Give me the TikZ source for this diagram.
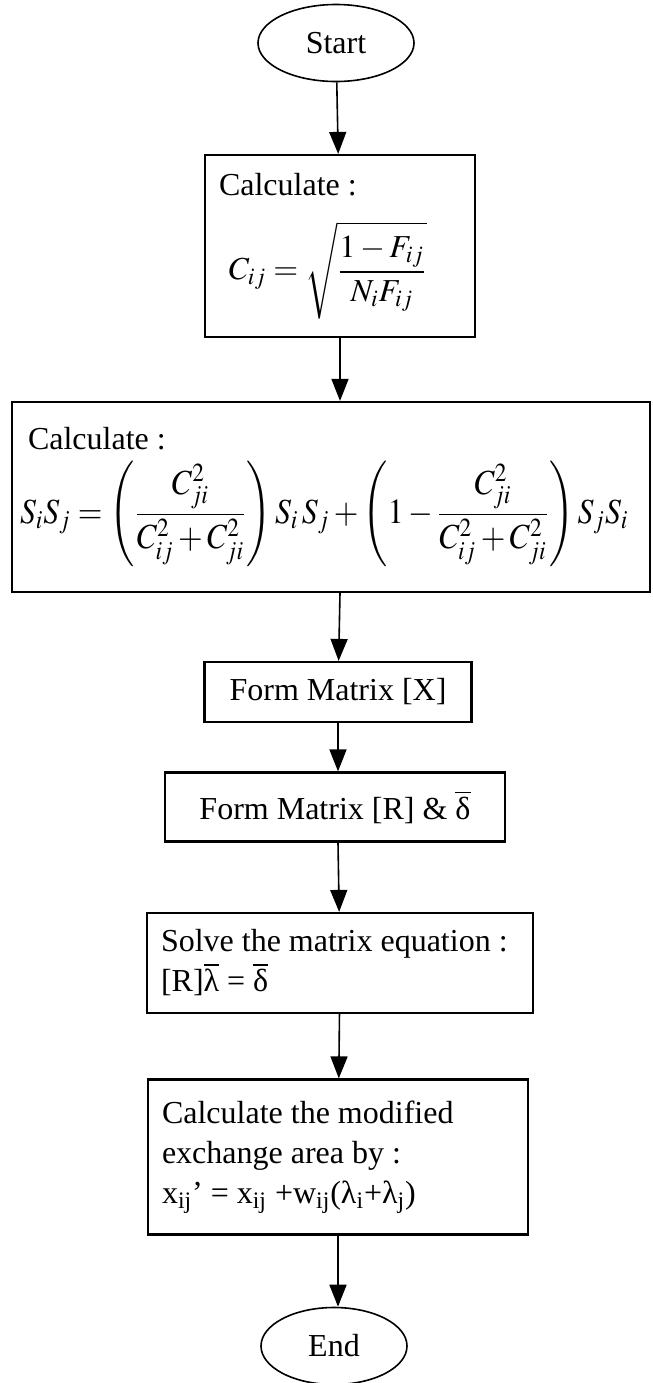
\documentclass[tikz,border=0pt]{standalone}
\usepackage{amsmath}
\usepackage{mathptmx}
\usepackage{fontspec}
\setmainfont{Liberation Serif}
\usepackage{graphicx}
\usetikzlibrary{arrows.meta,shapes.geometric}

\newcommand{\obar}[1]{\ensuremath{\overline{\mbox{#1}}}}

\begin{document}
\begin{tikzpicture}[x=0.5pt, y=-0.5pt, font=\fontsize{16}{20}\selectfont,
    >={Triangle[length=11pt,width=8.5pt]},
    flow/.style={->, line width=0.8pt},
    term/.style={ellipse, draw, line width=0.8pt, minimum width=78pt, minimum height=38.5pt},
    procbox/.style={rectangle, draw, line width=1.1pt, inner xsep=7pt}]
  \useasboundingbox (0,0) rectangle (653,1383);
  % terminals and process boxes, top to bottom (pixel positions of the reference)
  \node[term] (start) at (336,43) {Start};
  \node[procbox, text width=121pt, minimum height=91pt, align=flush left] (cij) at (340,246)
    {Calculate :\\[12pt]
     \hspace*{5pt}$\displaystyle C_{ij} = \sqrt{\frac{1-F_{ij}}{N_iF_{ij}}}$};
  \node[procbox, text width=311pt, inner xsep=4pt, minimum height=95pt, align=flush left] (sisj) at (331,497)
    {\hspace*{4pt}Calculate :\\[5pt]
     \scalebox{0.99}[1.1]{$\displaystyle S_iS_j = \left(\frac{C_{ji}^2}{C_{ij}^2+C_{ji}^2}\right)S_i\,S_j
       + \left(1-\frac{C_{ji}^2}{C_{ij}^2+C_{ji}^2}\right)S_jS_i$}};
  \node[procbox, minimum width=133.5pt, minimum height=30pt] (formx) at (338,692)
    {Form Matrix [X]};
  \node[procbox, minimum width=170pt, minimum height=34.5pt] (formr) at (335,807)
    {Form Matrix [R] \& \obar{δ}};
  \node[procbox, text width=179pt, minimum height=50pt, align=flush left] (solve) at (340,963)
    {Solve the matrix equation :\\
     {[R]}\obar{λ} = \obar{δ}};
  \node[procbox, text width=176pt, minimum height=77.5pt, align=flush left] (modif) at (338,1157)
    {Calculate the modified\\
     exchange area by :\\
     x\textsubscript{ij}’ = x\textsubscript{ij} +w\textsubscript{ij}(λ\textsubscript{i}+λ\textsubscript{j})};
  \node[term, minimum width=73pt] (finish) at (334,1346) {End};
  % connectors
  \draw[flow] (start) -- (cij);
  \draw[flow] (cij) -- (cij |- sisj.north);
  \draw[flow] (cij |- sisj.south) -- (formx);
  \draw[flow] (formx) -- (formx |- formr.north);
  \draw[flow] (formx |- formr.south) -- (solve);
  \draw[flow] (solve) -- (modif);
  \draw[flow] (modif) -- (modif |- finish.north);
\end{tikzpicture}
\end{document}
